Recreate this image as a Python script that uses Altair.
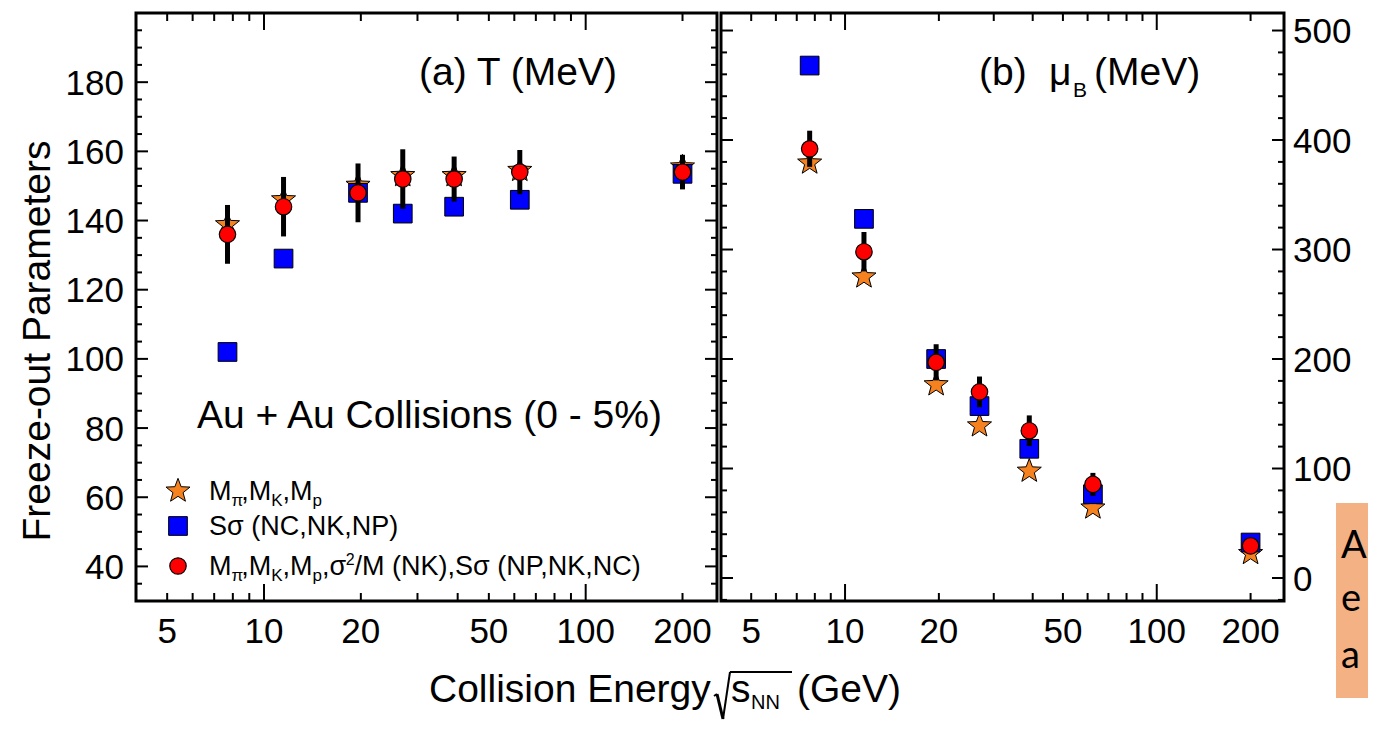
import altair as alt
import pandas as pd

# ---------------- data ----------------
ENERGY = [7.7, 11.5, 19.6, 27, 39, 62.4, 200]

T_STAR = [138.8, 146.0, 150.2, 153.0, 153.0, 154.5, 155.5]
T_SQUARE = [102.0, 129.0, 148.0, 142.0, 144.0, 146.0, 153.5]
T_CIRCLE = [136.0, 144.0, 148.0, 152.0, 152.0, 154.0, 154.0]
T_ERR = [8.5, 8.6, 8.5, 8.6, 6.5, 6.4, 5.0]

MU_STAR = [379.0, 275.0, 176.5, 139.0, 97.6, 64.0, 22.4]
MU_SQUARE = [468.0, 328.0, 200.0, 157.0, 118.0, 76.5, 32.4]
MU_CIRCLE = [392.0, 298.0, 197.0, 170.0, 134.5, 85.5, 29.4]
MU_ERR = [16.5, 18.0, 16.5, 14.0, 14.0, 10.5, 4.0]

X_LABELS = [5, 10, 20, 50, 100, 200]
X_MAJOR_TICKS = [10, 100]
X_MINOR_TICKS = [5, 6, 7, 8, 9, 20, 30, 40, 50, 60, 70, 80, 90, 200]

T_LABELS = [40, 60, 80, 100, 120, 140, 160, 180]
T_MINOR_TICKS = [35, 45, 50, 55, 65, 70, 75, 85, 90, 95, 105, 110, 115, 125, 130,
                 135, 145, 150, 155, 165, 170, 175, 185, 190, 195]

MU_LABELS = [0, 100, 200, 300, 400, 500]
MU_MINOR_TICKS = [-20, 20, 40, 60, 80, 120, 140, 160, 180, 220, 240, 260, 280,
                  320, 340, 360, 380, 420, 440, 460, 480]

# ---------------- styling ----------------
FONT = "Liberation Sans"
ORANGE = "#f5821f"
BLUE = "#0000ff"
RED = "#ff0000"
LW, RW, H = 581, 563, 588
GAP = 4
ONE = pd.DataFrame({"k": [0]})

STAR = ("M0,-1L0.247,-0.34L0.951,-0.309L0.399,0.13L0.588,0.809L0,0.42"
        "L-0.588,0.809L-0.399,0.13L-0.951,-0.309L-0.247,-0.34Z")

WIDTHS = {' ': 278, '(': 333, ')': 333, ',': 278, '/': 278, '-': 333, '+': 584,
          '%': 889, 'A': 667, 'B': 667, 'C': 722, 'E': 667, 'G': 778, 'K': 667,
          'M': 833, 'N': 722, 'P': 667, 'S': 667, 'T': 611, 'V': 667, 'a': 556,
          'b': 556, 'e': 556, 'g': 556, 'i': 222, 'l': 222, 'n': 556, 'o': 556,
          'p': 556, 'r': 333, 's': 500, 'u': 556, 'y': 500, 'π': 570, 'σ': 600,
          'μ': 576, '2': 556}


def tw(s, size):
    return sum(WIDTHS.get(c, 556) for c in s) * size / 1000.0


def text(s, x, y, size, font=FONT, **kw):
    return alt.Chart(ONE).mark_text(text=s, align="left", baseline="alphabetic",
                                    fontSize=size, font=font, color="black",
                                    **kw).encode(x=alt.value(x), y=alt.value(y))


def rich(pieces, x0, y0):
    out = []
    x = x0
    for s, size, dy in pieces:
        out.append(text(s, x, y0 + dy, size))
        x += tw(s, size)
    return out


def seg(x1, y1, x2, y2, w=2):
    return alt.Chart(ONE).mark_rule(color="black", strokeWidth=w).encode(
        x=alt.value(x1), y=alt.value(y1), x2=alt.value(x2), y2=alt.value(y2))


def panel(star, square, circ, err, ydomain, W, ylabels, ymajor, yminor,
          label_side, extras):
    df = pd.DataFrame({
        "E": ENERGY, "star": star, "square": square, "circ": circ,
        "lo": [c - e for c, e in zip(circ, err)],
        "hi": [c + e for c, e in zip(circ, err)],
    })
    xs = alt.Scale(type="log", domain=[4, 256], nice=False)
    ys = alt.Scale(domain=ydomain, nice=False, zero=False)
    base = alt.Chart(df)
    xn = alt.X("E:Q", scale=xs, axis=None)

    stars = base.mark_point(shape=STAR, filled=True, fill=ORANGE, stroke="black",
                            strokeWidth=1, size=640, opacity=1).encode(
        x=xn, y=alt.Y("star:Q", scale=ys, axis=None))
    squares = base.mark_point(shape="square", filled=True, fill=BLUE,
                              stroke="black", strokeWidth=1, size=350,
                              opacity=1).encode(
        x=xn, y=alt.Y("square:Q", scale=ys, axis=None))
    bars = base.mark_rule(color="black", strokeWidth=5).encode(
        x=xn, y=alt.Y("lo:Q", scale=ys, axis=None), y2="hi:Q")
    circles = base.mark_point(shape="circle", filled=True, fill=RED,
                              stroke="black", strokeWidth=1.2, size=270,
                              opacity=1).encode(
        x=xn, y=alt.Y("circ:Q", scale=ys, axis=None))

    layers = [stars, squares, bars, circles]

    def xt(values, length):
        b = alt.Chart(pd.DataFrame({"v": values}))
        xx = alt.X("v:Q", scale=xs, axis=None)
        return [
            b.mark_rule(color="black", strokeWidth=2).encode(
                x=xx, y=alt.value(H), y2=alt.value(H - length)),
            b.mark_rule(color="black", strokeWidth=2).encode(
                x=xx, y=alt.value(0), y2=alt.value(length)),
        ]

    def yt(values, length):
        b = alt.Chart(pd.DataFrame({"v": values}))
        yy = alt.Y("v:Q", scale=ys, axis=None)
        return [
            b.mark_rule(color="black", strokeWidth=2).encode(
                y=yy, x=alt.value(0), x2=alt.value(length)),
            b.mark_rule(color="black", strokeWidth=2).encode(
                y=yy, x=alt.value(W), x2=alt.value(W - length)),
        ]

    layers += xt(X_MAJOR_TICKS, 17) + xt(X_MINOR_TICKS, 8)
    layers += yt(ymajor, 12) + yt(yminor, 6)

    # tick labels, placed through the scales
    xlab = alt.Chart(pd.DataFrame({"v": X_LABELS})).mark_text(
        align="center", baseline="alphabetic", fontSize=35, font=FONT,
        color="black").encode(
        x=alt.X("v:Q", scale=xs, axis=None), y=alt.value(630),
        text=alt.Text("v:Q", format="d"))
    if label_side == "left":
        ylab = alt.Chart(pd.DataFrame({"v": ylabels})).mark_text(
            align="right", baseline="alphabetic", dy=12.5, fontSize=35,
            font=FONT, color="black").encode(
            y=alt.Y("v:Q", scale=ys, axis=None), x=alt.value(-12),
            text=alt.Text("v:Q", format="d"))
    else:
        ylab = alt.Chart(pd.DataFrame({"v": ylabels})).mark_text(
            align="left", baseline="alphabetic", dy=12.5, fontSize=35,
            font=FONT, color="black").encode(
            y=alt.Y("v:Q", scale=ys, axis=None), x=alt.value(W + 9),
            text=alt.Text("v:Q", format="d"))
    layers += [xlab, ylab]

    frame = alt.Chart(ONE).mark_rect(fillOpacity=0, stroke="black",
                                     strokeWidth=3).encode(
        x=alt.value(0), x2=alt.value(W), y=alt.value(0), y2=alt.value(H))
    layers.append(frame)
    layers += extras
    return alt.layer(*layers).properties(width=W, height=H)


# ---------------- left panel: T ----------------
left_extras = []
left_extras.append(alt.Chart(ONE).mark_text(
    text="Freeze-out Parameters", angle=270, align="center", baseline="alphabetic",
    fontSize=39, font=FONT, color="black").encode(x=alt.value(-86), y=alt.value(328)))
left_extras.append(text("(a) T (MeV)", 283, 72, 39))
left_extras.append(text("Au + Au Collisions (0 - 5%)", 61, 415, 39))
# legend symbols
left_extras.append(alt.Chart(ONE).mark_point(shape=STAR, filled=True, fill=ORANGE,
                                             stroke="black", strokeWidth=1, size=640,
                                             opacity=1).encode(x=alt.value(42), y=alt.value(478)))
left_extras.append(alt.Chart(ONE).mark_point(shape="square", filled=True, fill=BLUE,
                                             stroke="black", strokeWidth=1, size=350,
                                             opacity=1).encode(x=alt.value(42), y=alt.value(513)))
left_extras.append(alt.Chart(ONE).mark_point(shape="circle", filled=True, fill=RED,
                                             stroke="black", strokeWidth=1.2, size=270,
                                             opacity=1).encode(x=alt.value(42), y=alt.value(553)))
LS, SS = 27, 17
row1 = [("M", LS, 0), ("π", SS, 6), (",", LS, 0), ("M", LS, 0), ("K", SS, 6),
        (",", LS, 0), ("M", LS, 0), ("p", SS, 6)]
left_extras += rich(row1, 73, 487)
left_extras += rich([("Sσ (NC,NK,NP)", LS, 0)], 73, 522)
row3 = row1 + [(",σ", LS, 0), ("2", 16, -10), ("/M (NK),Sσ (NP,NK,NC)", LS, 0)]
left_extras += rich(row3, 73, 562)
# x-axis title spanning both panels
left_extras.append(text("Collision Energy", 293, 689, 39))
left_extras.append(seg(578, 683, 581, 681, 2))
left_extras.append(seg(581, 681, 587, 706, 3))
left_extras.append(seg(587, 706, 594, 659, 2))
left_extras.append(seg(594, 659, 656, 659, 2))
left_extras.append(text("s", 595, 689, 39))
left_extras.append(text("NN", 615, 696, 20))
left_extras.append(text("(GeV)", 661, 689, 39))

left = panel(T_STAR, T_SQUARE, T_CIRCLE, T_ERR, [30, 200], LW,
             T_LABELS, T_LABELS, T_MINOR_TICKS, "left", left_extras)

# ---------------- right panel: mu_B ----------------
right_extras = [
    text("(b)", 258, 72, 39),
    text("μ", 328, 72, 39),
    text("B", 352, 84, 21),
    text("(MeV)", 373, 72, 39),
]
right = panel(MU_STAR, MU_SQUARE, MU_CIRCLE, MU_ERR, [-21, 516], RW,
              MU_LABELS, MU_LABELS, MU_MINOR_TICKS, "right", right_extras)

# ---------------- slide fragment at the right edge ----------------
box = alt.layer(
    alt.Chart(ONE).mark_rect(color="#f4b183").encode(
        x=alt.value(48), x2=alt.value(80), y=alt.value(490), y2=alt.value(685)),
    text("A", 53, 545, 38, font="Lato"),
    text("e", 53, 598, 38, font="Lato"),
    text("a", 53, 655, 38, font="Lato"),
).properties(width=80, height=690)

chart = alt.hconcat(left, right, box, spacing=GAP, bounds="flush").properties(
    padding={"left": 11, "top": 3, "right": 0, "bottom": 2}
).configure_view(strokeWidth=0)

chart.save("out.html", embed_options={"renderer": "svg", "actions": False})
